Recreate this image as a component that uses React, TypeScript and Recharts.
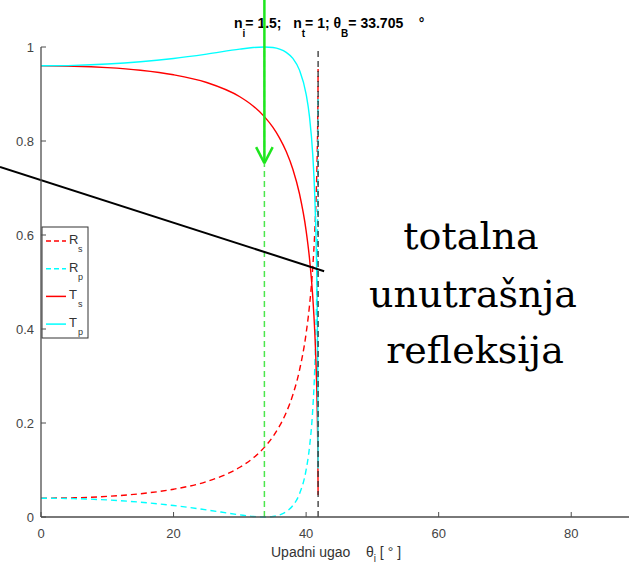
import React from 'react';
import { ComposedChart, Line, XAxis, YAxis, ReferenceLine, Customized } from 'recharts';

const angles = [0, 5, 10, 15, 20, 25, 30, 32, 33.7, 35, 36, 37, 38, 39, 40, 40.5, 41, 41.3, 41.5, 41.6, 41.7, 41.75, 41.8, 41.806];
const Rs = [0.04, 0.0409, 0.0439, 0.0495, 0.0591, 0.0755, 0.1058, 0.1254, 0.1481, 0.1711, 0.1937, 0.2223, 0.26, 0.3122, 0.3905, 0.4483, 0.531, 0.6045, 0.6751, 0.7235, 0.791, 0.8405, 0.931, 0.953];
const Rp = [0.04, 0.0391, 0.0363, 0.0315, 0.0244, 0.0151, 0.0046, 0.0012, 0.0, 0.0012, 0.0045, 0.0113, 0.0243, 0.0492, 0.1001, 0.1472, 0.2285, 0.3141, 0.4082, 0.4796, 0.5886, 0.6758, 0.8512, 0.897];
const Ts = [0.96, 0.9591, 0.9561, 0.9505, 0.9409, 0.9245, 0.8942, 0.8746, 0.8519, 0.8289, 0.8063, 0.7777, 0.74, 0.6878, 0.6095, 0.5517, 0.469, 0.3955, 0.3249, 0.2765, 0.209, 0.1595, 0.069, 0.047];
const Tp = [0.96, 0.9609, 0.9637, 0.9685, 0.9756, 0.9849, 0.9954, 0.9988, 1.0, 0.9988, 0.9955, 0.9887, 0.9757, 0.9508, 0.8999, 0.8528, 0.7715, 0.6859, 0.5918, 0.5204, 0.4114, 0.3242, 0.1488, 0.103];

const xTicks = [0, 20, 40, 60, 80];
const yTicks = [0, 0.2, 0.4, 0.6, 0.8, 1];
const brewster = 33.705;
const critical = 41.81;
const arrowTop = 1.1;
const arrowTip = 0.753;
const pointerLine = [
  { x: -6.19, y: 0.745 },
  { x: 42.72, y: 0.523 },
];

const data = angles.map((a, i) => ({ a, Rs: Rs[i], Rp: Rp[i], Ts: Ts[i], Tp: Tp[i] }));

const FONT = '"Liberation Sans", Arial, Helvetica, sans-serif';
const AX = '#4d4d4d';
const PRE = { whiteSpace: 'pre' as const };

const legendItems = [
  { main: 'R', sub: 's', color: '#ff0000', dash: '5 3' },
  { main: 'R', sub: 'p', color: '#00ffff', dash: '5 3' },
  { main: 'T', sub: 's', color: '#ff0000', dash: undefined },
  { main: 'T', sub: 'p', color: '#00ffff', dash: undefined },
];

const Overlay = () => (
  <g>
    <text x={234} y={28} fontFamily={FONT} fontWeight="bold" fontSize={14} fill="#000" style={PRE}>
      <tspan>n</tspan>
      <tspan fontSize={10} dy={9}>i</tspan>
      <tspan dy={-9}>= 1.5;   n</tspan>
      <tspan fontSize={10} dy={9}>t</tspan>
      <tspan dy={-9}>= 1; θ</tspan>
      <tspan fontSize={10} dy={9}>B</tspan>
      <tspan dy={-9}>= 33.705    °</tspan>
    </text>
    <text x={271} y={557} fontFamily={FONT} fontSize={14} fill="#333" style={PRE}>
      <tspan>Upadni ugao    θ</tspan>
      <tspan fontSize={10} dy={5}>i</tspan>
      <tspan dy={-5}> [ ° ]</tspan>
    </text>
    <rect x={42} y={227} width={46} height={111} fill="#fff" stroke="#333" strokeWidth={1} />
    {legendItems.map((it, i) => {
      const y = 241 + i * 27.7;
      return (
        <g key={i}>
          <line x1={46} x2={66} y1={y} y2={y} stroke={it.color} strokeWidth={1.5} strokeDasharray={it.dash} />
          <text x={69} y={y + 3} fontFamily={FONT} fontSize={13} fill="#333">{it.main}</text>
          <text x={78} y={y + 11} fontFamily={FONT} fontSize={9} fill="#333">{it.sub}</text>
        </g>
      );
    })}
    <text x={471} y={249} textAnchor="middle" fontFamily='"DejaVu Serif", serif' fontSize={38} fill="#000">totalna</text>
    <text x={473} y={307} textAnchor="middle" fontFamily='"DejaVu Serif", serif' fontSize={38} fill="#000">unutrašnja</text>
    <text x={475} y={363} textAnchor="middle" fontFamily='"DejaVu Serif", serif' fontSize={38} fill="#000">refleksija</text>
  </g>
);

export default function App() {
  return (
    <div style={{ position: 'absolute', left: 0, top: 0, width: 629, height: 564, overflow: 'hidden', background: '#fff' }}>
      <ComposedChart width={640} height={564} data={data} margin={{ top: 47, right: 2.5, bottom: 17, left: 0 }}>
        <XAxis
          dataKey="a"
          type="number"
          domain={[0, 90]}
          ticks={xTicks}
          allowDataOverflow
          height={30}
          tickSize={-5}
          tickMargin={17}
          stroke={AX}
          tick={{ fill: '#444', fontSize: 13, fontFamily: FONT }}
          axisLine={{ stroke: AX, strokeWidth: 1.3 }}
          tickLine={{ stroke: AX }}
        />
        <XAxis
          xAxisId="top"
          orientation="top"
          type="number"
          domain={[0, 90]}
          ticks={xTicks}
          height={0}
          tickSize={-5}
          tickFormatter={() => ''}
          stroke={AX}
          axisLine={{ stroke: AX, strokeWidth: 1.3 }}
          tickLine={{ stroke: AX }}
        />
        <YAxis
          type="number"
          domain={[0, 1]}
          ticks={yTicks}
          width={41}
          tickSize={-5}
          tickMargin={12}
          stroke={AX}
          tick={{ fill: '#444', fontSize: 13, fontFamily: FONT }}
          axisLine={{ stroke: AX, strokeWidth: 1.3 }}
          tickLine={{ stroke: AX }}
        />
        <Line type="monotone" dataKey="Rs" stroke="#ff0000" strokeWidth={1.4} strokeDasharray="6 4" dot={false} isAnimationActive={false} />
        <Line type="monotone" dataKey="Rp" stroke="#00ffff" strokeWidth={1.4} strokeDasharray="6 4" dot={false} isAnimationActive={false} />
        <Line type="monotone" dataKey="Ts" stroke="#ff0000" strokeWidth={1.4} dot={false} isAnimationActive={false} />
        <Line type="monotone" dataKey="Tp" stroke="#00ffff" strokeWidth={1.4} dot={false} isAnimationActive={false} />
        <ReferenceLine x={brewster} stroke="#4de64d" strokeWidth={1.5} strokeDasharray="6 4" />
        <ReferenceLine x={critical} stroke="#333" strokeWidth={1.3} strokeDasharray="6 4" />
        <ReferenceLine
          segment={[{ x: brewster, y: arrowTop }, { x: brewster, y: arrowTip }]}
          stroke="#1ee61e"
          strokeWidth={2.5}
          ifOverflow="visible"
        />
        <ReferenceLine
          segment={[{ x: brewster - 1.25, y: arrowTip + 0.034 }, { x: brewster, y: arrowTip }]}
          stroke="#1ee61e"
          strokeWidth={2.5}
          ifOverflow="visible"
        />
        <ReferenceLine
          segment={[{ x: brewster + 1.25, y: arrowTip + 0.034 }, { x: brewster, y: arrowTip }]}
          stroke="#1ee61e"
          strokeWidth={2.5}
          ifOverflow="visible"
        />
        <ReferenceLine segment={pointerLine} stroke="#000" strokeWidth={2} ifOverflow="visible" />
        <Customized component={Overlay} />
      </ComposedChart>
    </div>
  );
}
